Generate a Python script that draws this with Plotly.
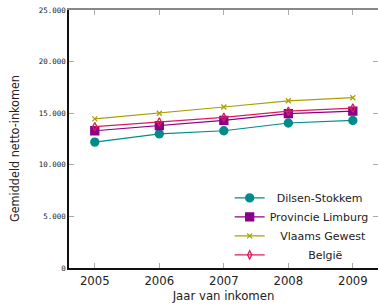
import plotly.graph_objects as go

years = [2005, 2006, 2007, 2008, 2009]
dilsen = [12200, 13000, 13300, 14050, 14300]
limburg = [13300, 13800, 14300, 14950, 15200]
vlaams = [14450, 15000, 15600, 16200, 16500]
belgie = [13700, 14150, 14600, 15200, 15500]
y_ticks = [0, 5000, 10000, 15000, 20000, 25000]
y_labels = ["0", "5.000", "10.000", "15.000", "20.000", "25.000"]

NB = "\u00a0"
series = [
    (NB * 2 + "Dilsen-Stokkem", dilsen, "#008b8b", "circle", 8),
    ("Provincie Limburg", limburg, "#8b008b", "square", 8),
    (NB * 3 + "Vlaams Gewest", vlaams, "#a8a000", "x-thin-open", 5),
    (NB * 11 + "België", belgie, "#dc1c5a", "diamond-tall-open", 6),
]

fig = go.Figure()
for name, vals, col, sym, sz in series:
    fig.add_trace(go.Scatter(
        x=years, y=vals, name=name, mode="lines+markers",
        line=dict(color=col, width=1.2),
        marker=dict(symbol=sym, size=sz, color=col, line=dict(color=col, width=1.3)),
    ))
# dummy trace for mirrored axes
fig.add_trace(go.Scatter(x=[None], y=[None], xaxis="x2", yaxis="y2", showlegend=False, hoverinfo="skip"))

xr = [2004.6, 2009.39]
yr = [0, 25000]
fig.update_layout(
    width=378, height=307,
    margin=dict(l=69, r=0, t=10, b=39, autoexpand=False),
    paper_bgcolor="white", plot_bgcolor="white",
    font=dict(family="DejaVu Sans", color="#222"),
    showlegend=True,
    legend=dict(x=0.52, y=0.328, xanchor="left", yanchor="top", bgcolor="rgba(0,0,0,0)",
                font=dict(size=11, family="DejaVu Sans"), tracegroupgap=0, itemwidth=30),
    xaxis=dict(range=xr, tickvals=years, ticktext=[str(y) for y in years], automargin=False,
               showgrid=False, zeroline=False, showline=True, linecolor="#111", linewidth=1.5,
               ticks="inside", ticklen=5, tickcolor="#aaa", tickwidth=1,
               tickfont=dict(size=13, family="DejaVu Sans Condensed"),
               title=dict(text="Jaar van inkomen", font=dict(size=13, family="DejaVu Sans Condensed"), standoff=4)),
    yaxis=dict(range=yr, tickvals=y_ticks, ticktext=y_labels, automargin=False, ticklabeloverflow="allow",
               showgrid=False, zeroline=False, showline=True, linecolor="#111", linewidth=1.5,
               ticks="inside", ticklen=5, tickcolor="#aaa", tickwidth=1,
               tickfont=dict(size=7.5, family="DejaVu Sans Mono")),
    xaxis2=dict(range=xr, overlaying="x", side="top", anchor="y", tickvals=years, showticklabels=False, automargin=False,
                showgrid=False, zeroline=False, showline=True, linecolor="#888", linewidth=1.5,
                ticks="inside", ticklen=5, tickcolor="#aaa", tickwidth=1),
    yaxis2=dict(range=yr, overlaying="y", side="right", anchor="x", tickvals=y_ticks, showticklabels=False, automargin=False,
                showgrid=False, zeroline=False, showline=True, linecolor="#888", linewidth=1.5,
                ticks="inside", ticklen=5, tickcolor="#aaa", tickwidth=1),
    annotations=[dict(text="Gemiddeld netto-inkomen", textangle=-90, xref="paper", yref="paper",
                      x=-0.178, y=0.465, xanchor="center", yanchor="middle", showarrow=False,
                      font=dict(size=12.5, family="DejaVu Sans Condensed", color="#222"))],
)
fig.write_html("out.html", config={"displayModeBar": False},
               post_script="document.body.style.margin='0';document.body.style.overflow='hidden';")
